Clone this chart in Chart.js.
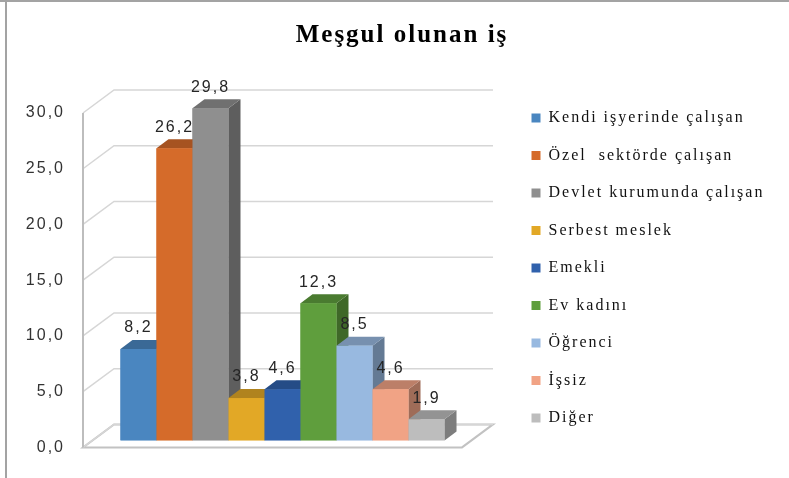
<!DOCTYPE html>
<html>
<head>
<meta charset="utf-8">
<script src="https://cdn.jsdelivr.net/npm/chart.js@4.4.1/dist/chart.umd.min.js"></script>
<style>
  html, body { margin: 0; padding: 0; background: #fff; }
</style>
</head>
<body>
<canvas id="barChart" width="789" height="478"></canvas>
<script>
// data
const categories = ['Kendi işyerinde çalışan', 'Özel  sektörde çalışan', 'Devlet kurumunda çalışan',
    'Serbest meslek', 'Emekli', 'Ev kadını', 'Öğrenci', 'İşsiz', 'Diğer'];
const values = [8.2, 26.2, 29.8, 3.8, 4.6, 12.3, 8.5, 4.6, 1.9];
const yTicks = [0, 5, 10, 15, 20, 25, 30];

const barColors = ['#4a86c0', '#d56b2a', '#8f8f8f', '#e2a826', '#3061ac',
    '#5f9e3d', '#98b9e0', '#f1a385', '#bdbdbd'];

// fake 3d offsets (relative to the plane the bars stand in)
const FRONT = { dx: -10, dy: 7 };
const BACK = { dx: 21, dy: -16 };
const SIDE = { dx: 12, dy: -9 };
const LEGEND_W = 279;
const SPACING = '2px';

const fmt = v => v.toFixed(1).replace('.', ',');

function shade(hex, f) {
    const n = parseInt(hex.slice(1), 16);
    const r = Math.round(((n >> 16) & 255) * f);
    const g = Math.round(((n >> 8) & 255) * f);
    const b = Math.round((n & 255) * f);
    return 'rgb(' + r + ',' + g + ',' + b + ')';
}

// wide text like the original + fixed legend width
const setup = {
    id: 'setup',
    beforeLayout(chart) {
        chart.ctx.letterSpacing = SPACING;
        const lg = chart.legend;
        if (lg && !lg._fixedWidth) {
            const fit = lg.fit;
            lg.fit = function () { fit.call(this); this.width = LEGEND_W; };
            lg._fixedWidth = true;
        }
    },
    beforeDraw(chart) {
        const ctx = chart.ctx;
        ctx.letterSpacing = SPACING;
        ctx.save();
        ctx.fillStyle = '#fff';
        ctx.fillRect(0, 0, chart.width, chart.height);
        ctx.fillStyle = '#a3a3a3';
        ctx.fillRect(0, 0, chart.width, 2);
        ctx.fillRect(5, 0, 2, chart.height);
        ctx.restore();
    }
};

// side wall, back wall and floor
const walls = {
    id: 'walls',
    beforeDatasetsDraw(chart) {
        const { ctx, chartArea: a, scales: { y } } = chart;
        const b = y.getPixelForValue(0);
        const t = y.getPixelForValue(yTicks[yTicks.length - 1]);
        ctx.save();
        ctx.beginPath();
        ctx.moveTo(a.left + FRONT.dx, b + FRONT.dy);
        ctx.lineTo(a.right + FRONT.dx, b + FRONT.dy);
        ctx.lineTo(a.right + BACK.dx, b + BACK.dy);
        ctx.lineTo(a.left + BACK.dx, b + BACK.dy);
        ctx.closePath();
        ctx.fillStyle = '#fff';
        ctx.fill();
        ctx.strokeStyle = '#c2c2c2';
        ctx.lineWidth = 2;
        ctx.stroke();

        ctx.strokeStyle = '#d6d6d6';
        ctx.lineWidth = 1.5;
        yTicks.forEach(v => {
            const p = y.getPixelForValue(v);
            ctx.beginPath();
            ctx.moveTo(a.left + FRONT.dx, p + FRONT.dy);
            ctx.lineTo(a.left + BACK.dx, p + BACK.dy);
            ctx.lineTo(a.right + BACK.dx, p + BACK.dy);
            ctx.stroke();
        });

        ctx.strokeStyle = '#bdbdbd';
        ctx.lineWidth = 2;
        ctx.beginPath();
        ctx.moveTo(a.left + FRONT.dx, t + FRONT.dy);
        ctx.lineTo(a.left + FRONT.dx, b + FRONT.dy);
        ctx.stroke();
        ctx.restore();
    }
};

// redraw the bars left to right with top and side faces, then the value labels
const bars3d = {
    id: 'bars3d',
    afterDatasetsDraw(chart) {
        const ctx = chart.ctx;
        const bars = [];
        chart.data.datasets.forEach((ds, i) => {
            const meta = chart.getDatasetMeta(i);
            if (!chart.isDatasetVisible(i)) return;
            meta.data.forEach(el => bars.push({ el: el, color: ds.backgroundColor, i: i }));
        });
        bars.sort((p, q) => p.el.x - q.el.x);

        ctx.save();
        bars.forEach(({ el, color }) => {
            const { x, y, base, width } = el.getProps(['x', 'y', 'base', 'width'], true);
            const l = x - width / 2, r = x + width / 2;
            ctx.fillStyle = shade(color, 0.66);
            ctx.beginPath();
            ctx.moveTo(r, y);
            ctx.lineTo(r + SIDE.dx, y + SIDE.dy);
            ctx.lineTo(r + SIDE.dx, base + SIDE.dy);
            ctx.lineTo(r, base);
            ctx.closePath();
            ctx.fill();

            ctx.fillStyle = shade(color, 0.78);
            ctx.beginPath();
            ctx.moveTo(l, y);
            ctx.lineTo(l + SIDE.dx, y + SIDE.dy);
            ctx.lineTo(r + SIDE.dx, y + SIDE.dy);
            ctx.lineTo(r, y);
            ctx.closePath();
            ctx.fill();

            ctx.fillStyle = color;
            ctx.fillRect(l, y, width, base - y);
        });

        ctx.font = '16px "Liberation Sans"';
        ctx.fillStyle = '#262626';
        ctx.textAlign = 'center';
        ctx.textBaseline = 'middle';
        bars.forEach(({ el, i }) => {
            ctx.fillText(fmt(values[i]), el.x, el.y - 21);
        });
        ctx.restore();
    }
};

const datasets = categories.map((name, i) => ({
    label: name,
    data: [values[i]],
    backgroundColor: barColors[i],
    borderWidth: 0
}));

const ctx = document.getElementById('barChart').getContext('2d');

const myChart = new Chart(ctx, {
    type: 'bar',
    data: {
        labels: [''],
        datasets: datasets
    },
    options: {
        responsive: false,
        animation: false,
        events: [],
        layout: { padding: { left: 15, right: 0, top: 0, bottom: 0 } },
        datasets: {
            bar: { categoryPercentage: 0.855, barPercentage: 1 }
        },
        scales: {
            x: {
                afterFit: axis => { axis.height = 36; },
                grid: { display: false, drawTicks: false },
                border: { display: false },
                ticks: { display: false }
            },
            y: {
                min: 0,
                max: 30,
                afterBuildTicks: axis => { axis.ticks = yTicks.map(v => ({ value: v })); },
                afterFit: axis => { axis.width = 78; },
                grid: { display: false, drawTicks: false },
                border: { display: false },
                ticks: {
                    padding: 28,
                    labelOffset: 7,
                    color: '#333',
                    font: { family: 'Liberation Sans', size: 16 },
                    callback: v => fmt(v)
                }
            },
            gap: {
                type: 'linear',
                position: 'right',
                afterFit: axis => { axis.width = 38; },
                grid: { display: false, drawTicks: false },
                border: { display: false },
                ticks: { display: false }
            }
        },
        plugins: {
            title: {
                display: true,
                text: 'Meşgul olunan iş',
                color: '#000',
                font: { family: 'Liberation Serif', size: 25, weight: 'bold' },
                padding: { top: 21, bottom: 55 }
            },
            legend: {
                position: 'right',
                align: 'center',
                title: {
                    display: true,
                    text: '',
                    font: { size: 12, lineHeight: 1.2 },
                    padding: { top: 43.6, bottom: 0 }
                },
                labels: {
                    boxWidth: 9,
                    boxHeight: 9,
                    padding: 21.5,
                    color: '#111',
                    font: { family: 'Liberation Serif', size: 16 }
                }
            },
            tooltip: { enabled: false }
        }
    },
    plugins: [setup, walls, bars3d]
});
</script>
</body>
</html>
